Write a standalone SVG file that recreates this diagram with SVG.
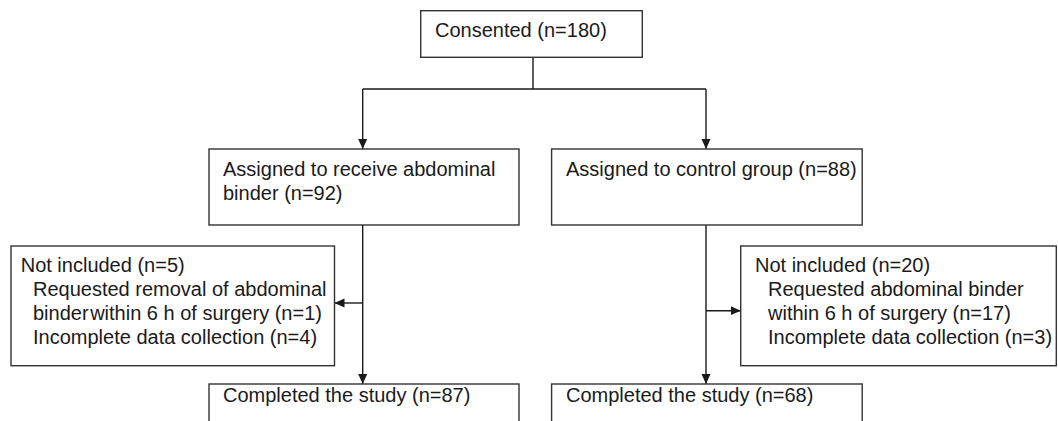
<svg xmlns="http://www.w3.org/2000/svg" width="1058" height="421" viewBox="0 0 1058 421">
<defs>
<marker id="arr" viewBox="0 0 10 10" refX="10" refY="5" markerWidth="10" markerHeight="10" markerUnits="userSpaceOnUse" orient="auto">
<path d="M0,0.5 L10,5 L0,9.5 Z" fill="#1a1a1a"/>
</marker>
<style>
.box{fill:#fff;stroke:#333;stroke-width:1.4}
.t{font-family:"Liberation Sans",Arial,sans-serif;font-size:20px;fill:#1a1a1a}
.ln{fill:none;stroke:#1a1a1a;stroke-width:1.4}
</style>
</defs>
<rect width="1058" height="421" fill="#fff"/>
<g id="connectors">
<path class="ln" d="M533,57 V89 M362.7,89 H706"/>
<path class="ln" d="M362.7,89 V149" marker-end="url(#arr)"/>
<path class="ln" d="M706,89 V149" marker-end="url(#arr)"/>
<path class="ln" d="M362.7,225 V384" marker-end="url(#arr)"/>
<path class="ln" d="M706,225 V384" marker-end="url(#arr)"/>
<path class="ln" d="M362.7,303 H334.5" marker-end="url(#arr)"/>
<path class="ln" d="M706,310.7 H740.7" marker-end="url(#arr)"/>
</g>
<g id="consented">
<rect class="box" x="420.7" y="10.7" width="221.6" height="46.6"/>
<text class="t" x="435" y="37">Consented (n=180)</text>
</g>
<g id="assigned-binder">
<rect class="box" x="209" y="149" width="310" height="76"/>
<text class="t" x="223" y="176">Assigned to receive abdominal</text>
<text class="t" x="223" y="200">binder (n=92)</text>
</g>
<g id="assigned-control">
<rect class="box" x="551.6" y="149" width="310.6" height="76"/>
<text class="t" x="566" y="176">Assigned to control group (n=88)</text>
</g>
<g id="not-included-binder">
<rect class="box" x="11" y="246" width="323.5" height="119.7"/>
<text class="t" x="20.7" y="272">Not included (n=5)</text>
<text class="t" x="33" y="296">Requested removal of abdominal</text>
<text class="t" x="33" y="320">binder<tspan dx="-4"> within 6 h of surgery (n=1)</tspan></text>
<text class="t" x="33" y="344">Incomplete data collection (n=4)</text>
</g>
<g id="not-included-control">
<rect class="box" x="740.7" y="246" width="315.6" height="119.7"/>
<text class="t" x="755" y="272">Not included (n=20)</text>
<text class="t" x="768" y="296">Requested abdominal binder</text>
<text class="t" x="768" y="320">within 6 h of surgery (n=17)</text>
<text class="t" x="768" y="344">Incomplete data collection (n=3)</text>
</g>
<g id="completed-binder">
<rect class="box" x="209" y="384" width="310" height="60"/>
<text class="t" x="223" y="402">Completed the study (n=87)</text>
</g>
<g id="completed-control">
<rect class="box" x="551.6" y="384" width="310.6" height="60"/>
<text class="t" x="566" y="402">Completed the study (n=68)</text>
</g>
</svg>
